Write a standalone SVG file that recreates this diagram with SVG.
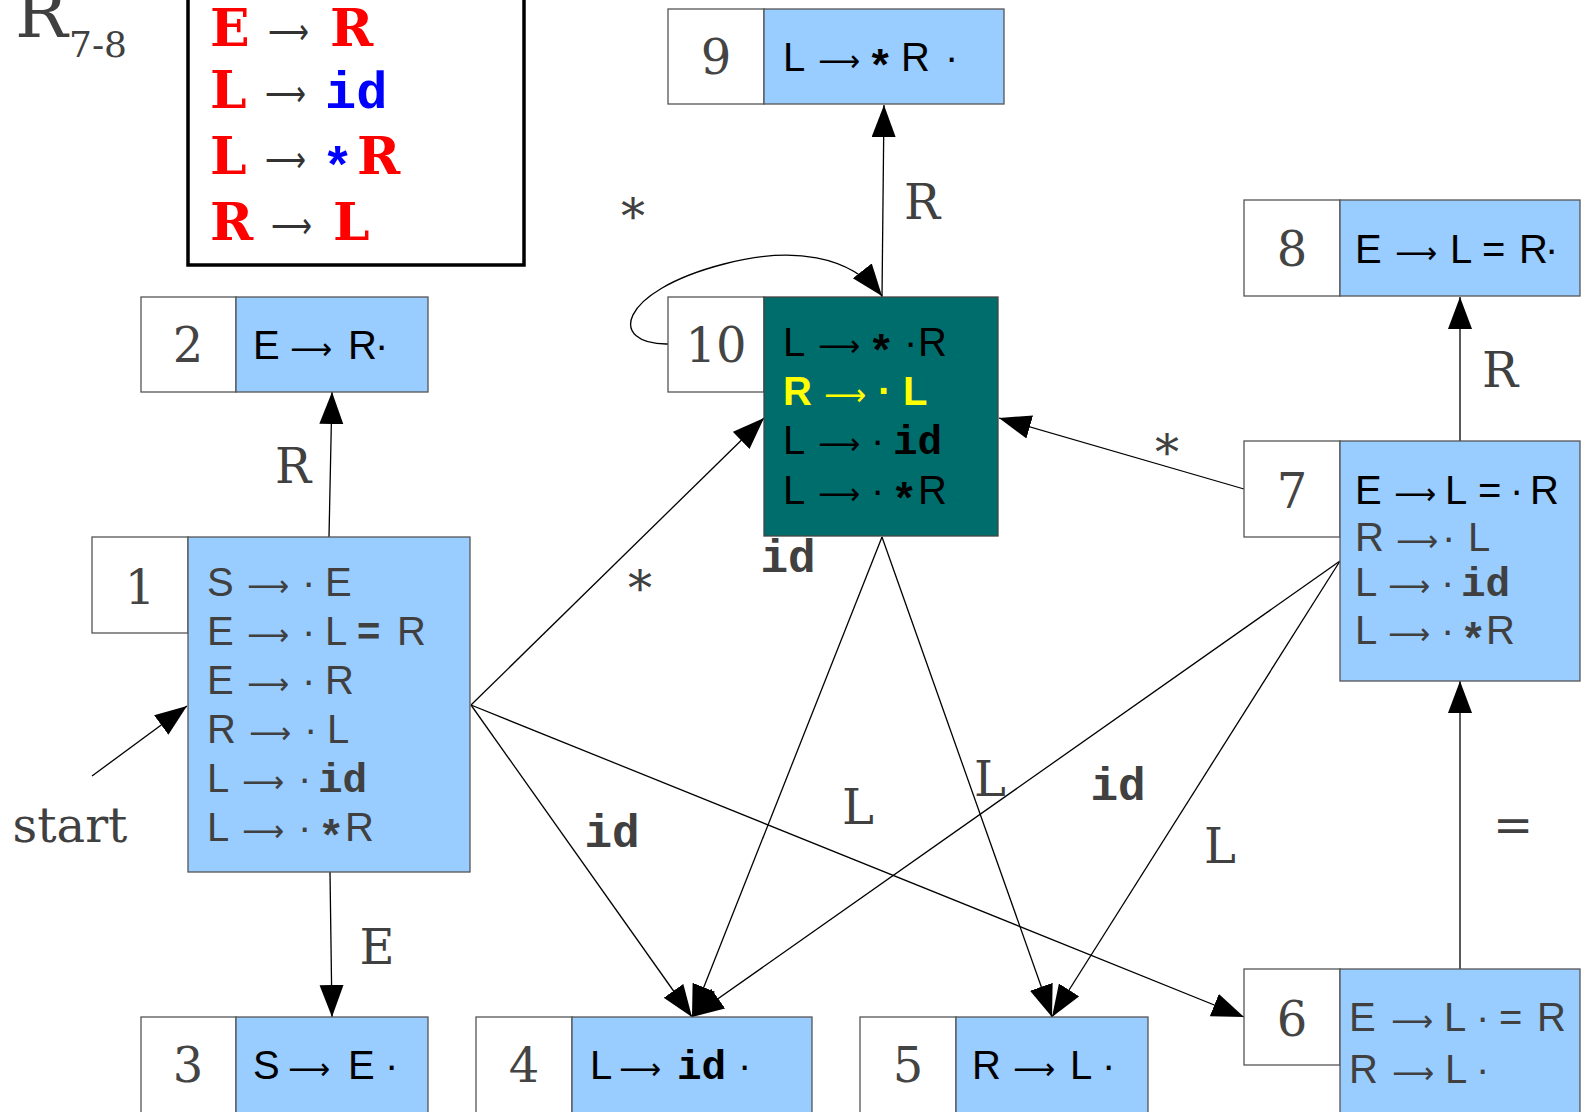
<svg xmlns="http://www.w3.org/2000/svg" width="1586" height="1112" viewBox="0 0 1586 1112">
<style>
.cell{fill:#fff;stroke:#555;stroke-width:1.3}
.blue{fill:#99ccff;stroke:#555;stroke-width:1.3}
.teal{fill:#006d6d;stroke:#444;stroke-width:1.3}
.num{font-family:"DejaVu Serif",serif;font-size:48px;fill:#444;text-anchor:middle}
.s{font-family:"Liberation Sans",Arial,sans-serif;font-size:40px}
.m{font-family:"Liberation Mono","Courier New",monospace;font-weight:bold;font-size:41px}
.st{font-family:"Liberation Mono","Courier New",monospace;font-weight:bold;font-size:44px}
.ar{font-family:"DejaVu Sans",sans-serif;font-size:30px}
.k{fill:#000}.g{fill:#404040}.y{fill:#ffff00}.b{font-weight:bold}
.lbl{font-family:"DejaVu Serif",serif;font-size:48px;fill:#404040;text-anchor:middle}
.lid{font-family:"Liberation Mono",monospace;font-weight:bold;font-size:46px;fill:#404040;text-anchor:middle}
.edge{stroke:#000;stroke-width:1.3;fill:none;marker-end:url(#ah)}
.lg{font-family:"DejaVu Serif",serif;font-weight:bold;font-size:52px;fill:#ff0000}
.lgm{font-family:"Liberation Mono",monospace;font-weight:bold;font-size:52px;fill:#0000ff}
.lga{font-family:"DejaVu Sans",sans-serif;font-size:36px;fill:#333}
</style>
<defs>
<marker id="ah" markerUnits="userSpaceOnUse" markerWidth="34" markerHeight="26" refX="32" refY="12" orient="auto">
<path d="M0,0 L32,12 L0,24 z" fill="#000"/>
</marker>
</defs>

<g id="title">
<text x="15" y="37" font-family="DejaVu Serif, serif" font-size="70" fill="#404040">R</text>
<text x="69" y="57" font-family="DejaVu Serif, serif" font-size="36" fill="#404040">7-8</text>
</g>

<g id="legend">
<rect x="188" y="-10" width="336" height="275" fill="#fff" stroke="#000" stroke-width="3.5"/>
<text class="lg" x="210" y="46">E</text><text class="lga" x="268" y="44" textLength="41" lengthAdjust="spacingAndGlyphs">⟶</text><text class="lg" x="330" y="46">R</text>
<text class="lg" x="210" y="108">L</text><text class="lga" x="265" y="106" textLength="41" lengthAdjust="spacingAndGlyphs">⟶</text><text class="lgm" x="325" y="108">id</text>
<text class="lg" x="210" y="174">L</text><text class="lga" x="265" y="172" textLength="41" lengthAdjust="spacingAndGlyphs">⟶</text><text class="lgm" x="322" y="184">*</text><text class="lg" x="357" y="174">R</text>
<text class="lg" x="210" y="240">R</text><text class="lga" x="271" y="238" textLength="41" lengthAdjust="spacingAndGlyphs">⟶</text><text class="lg" x="333" y="240">L</text>
</g>

<g id="connectors">
<path class="edge" d="M329,537 L332,392"/>
<path class="edge" d="M330,872 L332,1017"/>
<path class="edge" d="M92,776 L187,706"/>
<path class="edge" d="M471,705 L764,418"/>
<path class="edge" d="M471,705 L692,1017"/>
<path class="edge" d="M471,705 L1244,1017"/>
<path class="edge" d="M882,537 L692,1017"/>
<path class="edge" d="M882,537 L1052,1017"/>
<path class="edge" d="M1340,561 L692,1017"/>
<path class="edge" d="M1340,561 L1052,1017"/>
<path class="edge" d="M1244,489 L999,418"/>
<path class="edge" d="M1460,441 L1460,297"/>
<path class="edge" d="M1460,969 L1460,681"/>
<path class="edge" d="M882,297 L884,105"/>
<path class="edge" d="M668,344 C608,345 616,292 724,264 C792,246 850,255 882,296"/>
<text class="lbl" x="293" y="483">R</text>
<text class="lbl" x="377" y="964">E</text>
<text class="lbl" x="70" y="842">start</text>
<text class="lbl" x="640" y="605">*</text>
<text class="lid" x="612" y="847">id</text>
<text class="lbl" x="858" y="824">L</text>
<text class="lid" x="788" y="572">id</text>
<text class="lbl" x="990" y="796">L</text>
<text class="lid" x="1118" y="800">id</text>
<text class="lbl" x="1220" y="863">L</text>
<text class="lbl" x="1167" y="469">*</text>
<text class="lbl" x="1500" y="387">R</text>
<text class="lbl" x="1513" y="842">=</text>
<text class="lbl" x="922" y="219">R</text>
<text class="lbl" x="633" y="233">*</text>
</g>

<g id="node1">
<rect class="cell" x="92" y="537" width="96" height="96"/>
<rect class="blue" x="188" y="537" width="282" height="335"/>
<text class="num" x="140" y="604">1</text>
<g class="g">
<text class="s" x="207" y="596">S</text><text class="ar" x="247" y="596" textLength="42" lengthAdjust="spacingAndGlyphs">⟶</text><text class="s" x="302" y="596">·</text><text class="s" x="325" y="596">E</text>
<text class="s" x="207" y="645">E</text><text class="ar" x="247" y="645" textLength="42" lengthAdjust="spacingAndGlyphs">⟶</text><text class="s" x="302" y="645">·</text><text class="s" x="325" y="645">L</text><text class="s b" x="357" y="645">=</text><text class="s" x="397" y="645">R</text>
<text class="s" x="207" y="694">E</text><text class="ar" x="247" y="694" textLength="42" lengthAdjust="spacingAndGlyphs">⟶</text><text class="s" x="302" y="694">·</text><text class="s" x="325" y="694">R</text>
<text class="s" x="207" y="743">R</text><text class="ar" x="249" y="743" textLength="42" lengthAdjust="spacingAndGlyphs">⟶</text><text class="s" x="304" y="743">·</text><text class="s" x="327" y="743">L</text>
<text class="s" x="207" y="792">L</text><text class="ar" x="242" y="792" textLength="42" lengthAdjust="spacingAndGlyphs">⟶</text><text class="s" x="298" y="792">·</text><text class="m" x="318" y="792">id</text>
<text class="s" x="207" y="841">L</text><text class="ar" x="242" y="841" textLength="42" lengthAdjust="spacingAndGlyphs">⟶</text><text class="s" x="298" y="841">·</text><text class="st" x="318" y="851">*</text><text class="s" x="345" y="841">R</text>
</g>
</g>

<g id="node2">
<rect class="cell" x="141" y="297" width="95" height="95"/>
<rect class="blue" x="236" y="297" width="192" height="95"/>
<text class="num" x="188" y="362">2</text>
<g class="k">
<text class="s" x="253" y="359">E</text><text class="ar" x="290" y="359" textLength="42" lengthAdjust="spacingAndGlyphs">⟶</text><text class="s" x="348" y="359">R</text><text class="s" x="375" y="359">·</text>
</g>
</g>

<g id="node3">
<rect class="cell" x="141" y="1017" width="95" height="100"/>
<rect class="blue" x="236" y="1017" width="192" height="100"/>
<text class="num" x="188" y="1082">3</text>
<g class="k">
<text class="s" x="253" y="1079">S</text><text class="ar" x="288" y="1079" textLength="42" lengthAdjust="spacingAndGlyphs">⟶</text><text class="s" x="348" y="1079">E</text><text class="s" x="385" y="1079">·</text>
</g>
</g>

<g id="node4">
<rect class="cell" x="476" y="1017" width="96" height="100"/>
<rect class="blue" x="572" y="1017" width="240" height="100"/>
<text class="num" x="524" y="1082">4</text>
<g class="k">
<text class="s" x="590" y="1079">L</text><text class="ar" x="619" y="1079" textLength="42" lengthAdjust="spacingAndGlyphs">⟶</text><text class="m" x="677" y="1079">id</text><text class="s" x="738" y="1079">·</text>
</g>
</g>

<g id="node5">
<rect class="cell" x="860" y="1017" width="96" height="100"/>
<rect class="blue" x="956" y="1017" width="192" height="100"/>
<text class="num" x="908" y="1082">5</text>
<g class="k">
<text class="s" x="972" y="1079">R</text><text class="ar" x="1013" y="1079" textLength="42" lengthAdjust="spacingAndGlyphs">⟶</text><text class="s" x="1070" y="1079">L</text><text class="s" x="1102" y="1079">·</text>
</g>
</g>

<g id="node6">
<rect class="cell" x="1244" y="969" width="96" height="96"/>
<rect class="blue" x="1340" y="969" width="240" height="150"/>
<text class="num" x="1292" y="1036">6</text>
<g class="g">
<text class="s" x="1349" y="1031">E</text><text class="ar" x="1391" y="1031" textLength="42" lengthAdjust="spacingAndGlyphs">⟶</text><text class="s" x="1444" y="1031">L</text><text class="s" x="1476" y="1031">·</text><text class="s" x="1499" y="1031">=</text><text class="s" x="1537" y="1031">R</text>
<text class="s" x="1349" y="1083">R</text><text class="ar" x="1392" y="1083" textLength="42" lengthAdjust="spacingAndGlyphs">⟶</text><text class="s" x="1445" y="1083">L</text><text class="s" x="1476" y="1083">·</text>
</g>
</g>

<g id="node7">
<rect class="cell" x="1244" y="441" width="96" height="96"/>
<rect class="blue" x="1340" y="441" width="240" height="240"/>
<text class="num" x="1292" y="508">7</text>
<g class="k">
<text class="s" x="1355" y="504">E</text><text class="ar" x="1394" y="504" textLength="42" lengthAdjust="spacingAndGlyphs">⟶</text><text class="s" x="1445" y="504">L</text><text class="s" x="1478" y="504">=</text><text class="s" x="1510" y="504">·</text><text class="s" x="1530" y="504">R</text>
</g>
<g class="g">
<text class="s" x="1355" y="551">R</text><text class="ar" x="1396" y="551" textLength="42" lengthAdjust="spacingAndGlyphs">⟶</text><text class="s" x="1442" y="551">·</text><text class="s" x="1468" y="551">L</text>
<text class="s" x="1355" y="596">L</text><text class="ar" x="1388" y="596" textLength="42" lengthAdjust="spacingAndGlyphs">⟶</text><text class="s" x="1441" y="596">·</text><text class="m" x="1461" y="596">id</text>
<text class="s" x="1355" y="644">L</text><text class="ar" x="1388" y="644" textLength="42" lengthAdjust="spacingAndGlyphs">⟶</text><text class="s" x="1441" y="644">·</text><text class="st" x="1460" y="654">*</text><text class="s" x="1486" y="644">R</text>
</g>
</g>

<g id="node8">
<rect class="cell" x="1244" y="200" width="96" height="96"/>
<rect class="blue" x="1340" y="200" width="240" height="96"/>
<text class="num" x="1292" y="266">8</text>
<g class="k">
<text class="s" x="1355" y="263">E</text><text class="ar" x="1395" y="263" textLength="42" lengthAdjust="spacingAndGlyphs">⟶</text><text class="s" x="1450" y="263">L</text><text class="s" x="1482" y="263">=</text><text class="s" x="1519" y="263">R</text><text class="s" x="1545" y="263">·</text>
</g>
</g>

<g id="node9">
<rect class="cell" x="668" y="9" width="96" height="95"/>
<rect class="blue" x="764" y="9" width="240" height="95"/>
<text class="num" x="716" y="74">9</text>
<g class="k">
<text class="s" x="783" y="71">L</text><text class="ar" x="818" y="71" textLength="42" lengthAdjust="spacingAndGlyphs">⟶</text><text class="st" x="867" y="81">*</text><text class="s" x="901" y="71">R</text><text class="s" x="945" y="71">·</text>
</g>
</g>

<g id="node10">
<rect class="cell" x="668" y="297" width="96" height="95"/>
<rect class="teal" x="764" y="297" width="234" height="239"/>
<text class="num" x="716" y="362">10</text>
<g class="k">
<text class="s" x="783" y="356">L</text><text class="ar" x="818" y="356" textLength="42" lengthAdjust="spacingAndGlyphs">⟶</text><text class="st" x="868" y="366">*</text><text class="s" x="904" y="356">·</text><text class="s" x="918" y="356">R</text>
</g>
<g class="y">
<text class="s b" x="783" y="405">R</text><text class="ar" x="824" y="405" textLength="42" lengthAdjust="spacingAndGlyphs">⟶</text><text class="s b" x="878" y="405">·</text><text class="s b" x="903" y="405">L</text>
</g>
<g class="k">
<text class="s" x="783" y="454">L</text><text class="ar" x="818" y="454" textLength="42" lengthAdjust="spacingAndGlyphs">⟶</text><text class="s" x="871" y="454">·</text><text class="m" x="893" y="454">id</text>
<text class="s" x="783" y="504">L</text><text class="ar" x="818" y="504" textLength="42" lengthAdjust="spacingAndGlyphs">⟶</text><text class="s" x="871" y="504">·</text><text class="st" x="891" y="514">*</text><text class="s" x="918" y="504">R</text>
</g>
</g>
</svg>
